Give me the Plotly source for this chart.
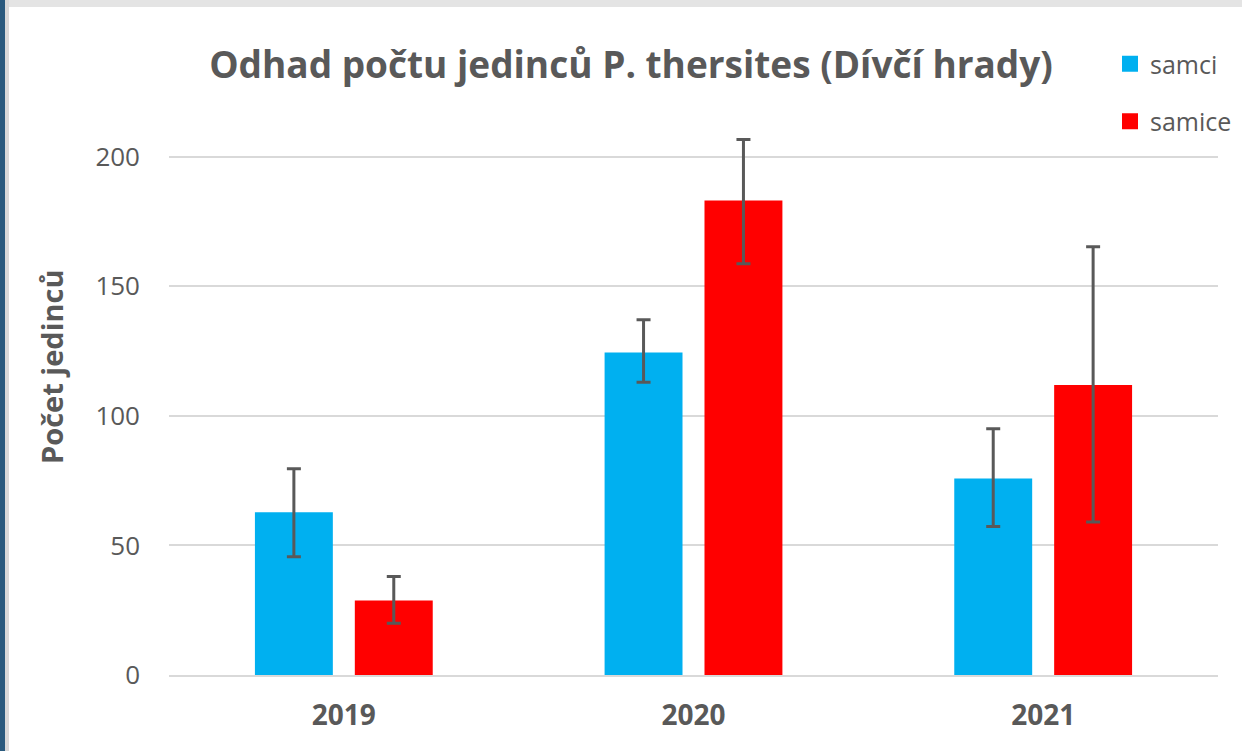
import plotly.graph_objects as go

years = ["2019", "2020", "2021"]
samci = [62.8, 124.5, 75.8]
samci_err_plus = [16.8, 12.6, 19.2]
samci_err_minus = [17.2, 11.5, 18.5]
samice = [28.8, 183.1, 111.9]
samice_err_plus = [9.2, 23.6, 53.4]
samice_err_minus = [8.8, 24.4, 52.8]

W, H = 1242, 751
ml, mr, mt, mb = 169, 24, 105, 76
pw, ph = W - ml - mr, H - mt - mb

def px(x):
    return (x - ml) / pw

def py(y):
    return (H - mb - y) / ph

err_style = dict(type="data", symmetric=False, color="#595959", thickness=3, width=7)
col_samci, col_samice = "#00B0F0", "#FF0000"

fig = go.Figure()
fig.add_trace(go.Bar(
    x=years, y=samci, name="samci", marker=dict(color=col_samci, line=dict(width=0)),
    error_y=dict(array=samci_err_plus, arrayminus=samci_err_minus, **err_style),
    showlegend=False,
))
fig.add_trace(go.Bar(
    x=years, y=samice, name="samice", marker=dict(color=col_samice, line=dict(width=0)),
    error_y=dict(array=samice_err_plus, arrayminus=samice_err_minus, **err_style),
    showlegend=False,
))
# legend entries with larger square swatches
for nm, col, grp in [("samci", col_samci, "a"), ("samice", col_samice, "b")]:
    fig.add_trace(go.Scatter(
        x=[None], y=[None], mode="markers", name=nm, legendgroup=grp,
        marker=dict(symbol="square", size=16, color=col, line=dict(width=0)),
        showlegend=True,
    ))

shapes = [
    dict(type="rect", xref="paper", yref="paper", x0=px(0), x1=px(W), y0=py(0), y1=py(7),
         fillcolor="#e4e4e4", line=dict(width=0), layer="below"),
    dict(type="rect", xref="paper", yref="paper", x0=px(0), x1=px(9), y0=py(0), y1=py(H),
         fillcolor="#d9d9d9", line=dict(width=0), layer="below"),
    dict(type="rect", xref="paper", yref="paper", x0=px(0), x1=px(5), y0=py(0), y1=py(H),
         fillcolor="#2a5a7e", line=dict(width=0), layer="below"),
]

fig.update_layout(
    width=W, height=H,
    margin=dict(l=ml, r=mr, t=mt, b=mb, autoexpand=False),
    paper_bgcolor="white", plot_bgcolor="white",
    barmode="group", bargap=0.4286, bargroupgap=0.22,
    title=dict(text="<b>Odhad počtu jedinců P. thersites (Dívčí hrady)</b>",
               x=px(631), xanchor="center", xref="paper", y=1 - 65 / H, yanchor="middle",
               font=dict(family="Open Sans", size=37, color="#595959")),
    font=dict(family="Open Sans", color="#595959"),
    showlegend=True,
    legend=dict(x=px(1110), y=py(41), xanchor="left", yanchor="top",
                xref="paper", yref="paper", traceorder="grouped", tracegroupgap=22,
                font=dict(family="Open Sans", size=25, color="#595959"),
                bgcolor="rgba(0,0,0,0)", itemwidth=30),
    xaxis=dict(showgrid=False, showline=True, linecolor="#d9d9d9", linewidth=2,
               tickfont=dict(family="Open Sans", size=28, color="#595959"),
               ticklabelstandoff=14, ticks=""),
    yaxis=dict(range=[0, 220], tickvals=[0, 50, 100, 150, 200], showgrid=True,
               gridcolor="#d9d9d9", gridwidth=2, zeroline=False, showline=False,
               tickfont=dict(family="Open Sans", size=26, color="#595959"),
               ticklabelstandoff=28, ticks=""),
    annotations=[dict(text="<b>Počet jedinců</b>", textangle=-90, xref="paper", yref="paper",
                      x=px(51), y=py(367), xanchor="center", yanchor="middle", showarrow=False,
                      font=dict(family="Open Sans", size=29, color="#595959"))],
    shapes=shapes,
)
fig.update_xaxes(tickvals=years, ticktext=[f"<b>{y}</b>" for y in years])

fig.write_html("out.html", config={"displayModeBar": False},
               post_script="document.body.style.margin='0';document.body.style.overflow='hidden';")
